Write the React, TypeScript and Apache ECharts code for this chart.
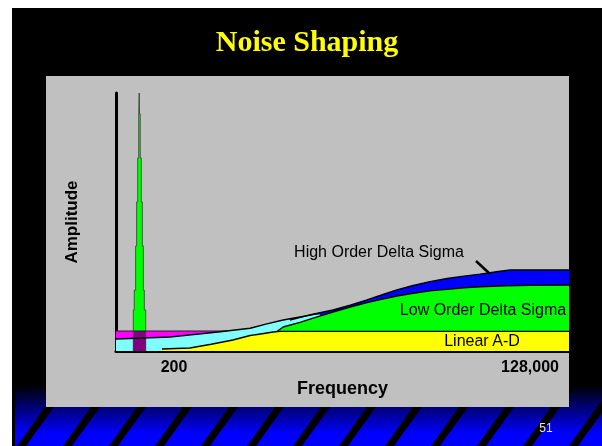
import React, { useEffect, useRef } from 'react';
import * as echarts from 'echarts';

// x: display frequency position (0..100 across the axis), y: amplitude (0..100)
const xTickValues = [12.8, 91.4];
const xTickLabels = ['200', '128,000'];

const blueTop = [[38.4, 12.0], [43.5, 14.3], [47.9, 15.9], [51.7, 17.8], [55.4, 19.8], [58.3, 21.5], [62.0, 23.7], [65.6, 25.4], [69.3, 26.9], [73.1, 28.1], [76.8, 29.0], [80.4, 29.8], [84.0, 30.7], [87.0, 31.4], [100, 31.4]];
const magentaTop = [[0, 7.75], [24.5, 7.75]];
const cyanTop = [[0, 4.65], [11.9, 5.43], [22.5, 7.36], [29.6, 8.8], [33.3, 10.5], [36.9, 12.0], [40.6, 13.2], [43.5, 14.1], [45.0, 14.5]];
const greenTop = [[35.5, 7.56], [36.9, 9.3], [40.6, 11.1], [44.4, 13.2], [47.9, 15.1], [51.7, 17.05], [55.0, 18.6], [58.3, 19.9], [62.0, 21.3], [65.6, 22.4], [69.3, 23.3], [73.1, 23.9], [76.8, 24.5], [80.4, 24.9], [86.0, 25.3], [91.4, 25.5], [100, 25.6]];
const yellowTop = [[10.15, 0.78], [16.3, 1.16], [21.0, 2.6], [25.8, 4.26], [29.6, 6.0], [34.7, 7.36], [36.2, 7.6], [100, 7.6]];
const spikeOutline = [[3.82, 0], [3.82, 15.9], [4.02, 15.9], [4.02, 23.6], [4.33, 23.6], [4.33, 40.7], [4.55, 40.7], [4.55, 57.75], [4.79, 57.75], [4.79, 74.8], [5.01, 74.8], [5.01, 91.9], [5.12, 91.9], [5.12, 100], [5.2, 100], [5.2, 91.9], [5.36, 91.9], [5.36, 74.8], [5.58, 74.8], [5.58, 57.75], [5.81, 57.75], [5.81, 40.7], [6.03, 40.7], [6.03, 23.6], [6.25, 23.6], [6.25, 15.9], [6.56, 15.9], [6.56, 0]];
const purpleBand = [[3.82, 7.75], [6.56, 7.75]];

const SANS = 'Liberation Sans, Arial, sans-serif';

function area(name: string, data: number[][], fill: string, line: string, lw: number) {
  return {
    type: 'line',
    name,
    data,
    symbol: 'none',
    smooth: false,
    lineStyle: { color: line, width: lw },
    areaStyle: { color: fill, opacity: 1, origin: 'start' },
    emphasis: { disabled: true },
  };
}

export default function App() {
  const ref = useRef<HTMLDivElement>(null);
  useEffect(() => {
    const chart = echarts.init(ref.current!, null, { renderer: 'svg' });
    const stripes: any[] = [];
    for (let k = 0; k < 14; k++) {
      const x0 = 17 + 46 * k;
      stripes.push({
        type: 'polygon',
        z: -8,
        shape: { points: [[x0, 446], [x0 + 9, 446], [x0 + 9 + 43.6, 385], [x0 + 43.6, 385]] },
        style: { fill: '#000000' },
        silent: true,
      });
    }
    const option: any = {
      animation: false,
      grid: { left: 116, right: 33, top: 93, bottom: 95 },
      xAxis: {
        type: 'value',
        min: 0,
        max: 100,
        name: 'Frequency',
        nameLocation: 'middle',
        nameGap: 28,
        nameTextStyle: { fontFamily: SANS, fontWeight: 'bold', fontSize: 18, color: '#000' },
        axisLine: { show: true, lineStyle: { color: '#000', width: 3 } },
        axisTick: { show: false },
        splitLine: { show: false },
        axisLabel: {
          customValues: xTickValues,
          formatter: (v: number) => {
            const i = xTickValues.findIndex((t) => Math.abs(t - v) < 1e-6);
            return i >= 0 ? xTickLabels[i] : '';
          },
          margin: 7,
          fontFamily: SANS,
          fontWeight: 'bold',
          fontSize: 16,
          color: '#000',
        },
      },
      yAxis: {
        type: 'value',
        min: 0,
        max: 100,
        name: 'Amplitude',
        nameLocation: 'middle',
        nameRotate: 90,
        nameGap: 36,
        nameTextStyle: { fontFamily: SANS, fontWeight: 'bold', fontSize: 17, color: '#000' },
        axisLine: { show: true, lineStyle: { color: '#000', width: 3 } },
        axisTick: { show: false },
        axisLabel: { show: false },
        splitLine: { show: false },
      },
      graphic: [
        { type: 'rect', z: -10, silent: true, shape: { x: 12, y: 8, width: 590, height: 438 }, style: { fill: '#000000' } },
        {
          type: 'rect', z: -9, silent: true, shape: { x: 15, y: 385, width: 587, height: 61 },
          style: {
            fill: new echarts.graphic.LinearGradient(0, 0, 0, 1, [
              { offset: 0, color: '#000000' },
              { offset: 0.8, color: '#0000ff' },
              { offset: 1, color: '#0000ff' },
            ]),
          },
        },
        ...stripes,
        { type: 'rect', z: -7, silent: true, shape: { x: 46, y: 76, width: 523, height: 331 }, style: { fill: '#c0c0c0' } },
        {
          type: 'text', z: 50, x: 307, y: 40,
          style: { text: 'Noise Shaping', fill: '#ffff00', font: 'bold 30px "Liberation Serif", "Times New Roman", serif', textAlign: 'center', textVerticalAlign: 'middle' },
        },
        {
          type: 'text', z: 50, x: 546, y: 428,
          style: { text: '51', fill: '#e6e6e6', font: '12px "Liberation Sans", Arial, sans-serif', textAlign: 'center', textVerticalAlign: 'middle' },
        },
        {
          type: 'text', z: 50, x: 379, y: 251,
          style: { text: 'High Order Delta Sigma', fill: '#000', font: '16px "Liberation Sans", Arial, sans-serif', textAlign: 'center', textVerticalAlign: 'middle' },
        },
        {
          type: 'text', z: 50, x: 483, y: 309,
          style: { text: 'Low Order Delta Sigma', fill: '#000', font: '16px "Liberation Sans", Arial, sans-serif', textAlign: 'center', textVerticalAlign: 'middle' },
        },
        {
          type: 'text', z: 50, x: 482, y: 340,
          style: { text: 'Linear A-D', fill: '#000', font: '16px "Liberation Sans", Arial, sans-serif', textAlign: 'center', textVerticalAlign: 'middle' },
        },
        {
          type: 'line', z: 50, silent: true,
          shape: { x1: 476, y1: 261, x2: 490, y2: 274 },
          style: { stroke: '#000', lineWidth: 2.5 },
        },
      ],
      series: [
        area('High Order Delta Sigma', blueTop, '#0000ff', '#000', 1.4),
        area('Magenta', magentaTop, '#ff00ff', '#202020', 1),
        area('Cyan', cyanTop, '#80ffff', '#000', 1.4),
        area('Low Order Delta Sigma', greenTop, '#00ff00', '#000', 1.4),
        area('Linear A-D', yellowTop, '#ffff00', '#000', 1.4),
        area('Signal', spikeOutline, '#00ff00', '#2a2a2a', 0.7),
        area('Overlap', purpleBand, '#800080', 'rgba(0,0,0,0)', 0),
      ],
    };
    chart.setOption(option);
    return () => chart.dispose();
  }, []);
  return <div ref={ref} style={{ position: 'fixed', left: 0, top: 0, width: 602, height: 446 }} />;
}
